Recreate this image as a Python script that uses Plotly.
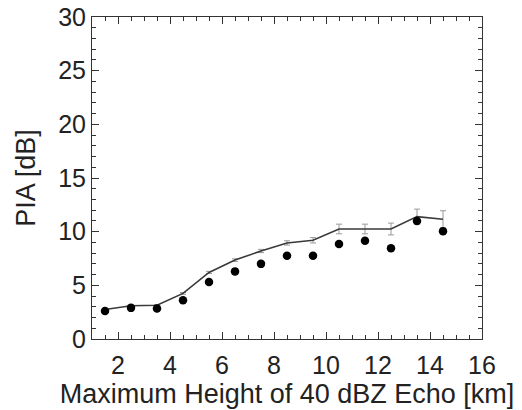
import plotly.graph_objects as go

heights = [1.5, 2.5, 3.5, 4.5, 5.5, 6.5, 7.5, 8.5, 9.5, 10.5, 11.5, 12.5, 13.5, 14.5]
pia_dots = [2.6, 2.9, 2.85, 3.6, 5.3, 6.3, 7.0, 7.75, 7.75, 8.85, 9.15, 8.45, 11.0, 10.05]
pia_line = [2.75, 3.1, 3.15, 4.25, 6.2, 7.35, 8.2, 8.95, 9.2, 10.25, 10.25, 10.25, 11.4, 11.15]
pia_err = [0.05, 0.05, 0.05, 0.08, 0.1, 0.12, 0.15, 0.2, 0.25, 0.45, 0.45, 0.55, 0.7, 0.8]

x_ticks = [2, 4, 6, 8, 10, 12, 14, 16]
y_ticks = [0, 5, 10, 15, 20, 25, 30]

fig = go.Figure()
fig.add_trace(go.Scatter(
    x=heights, y=pia_line, mode="lines",
    line=dict(color="#3a3a3a", width=1.6),
    error_y=dict(type="data", array=pia_err, visible=True, color="#999999", thickness=1, width=3),
    showlegend=False,
))
fig.add_trace(go.Scatter(
    x=heights, y=pia_dots, mode="markers",
    marker=dict(color="black", size=8.5),
    showlegend=False,
))

font = "Liberation Sans, Arial, sans-serif"
fig.update_layout(
    width=522, height=410,
    margin=dict(l=92, r=40, t=17, b=71, autoexpand=False),
    paper_bgcolor="white", plot_bgcolor="white",
    font=dict(family=font, color="#222222", size=25),
)
fig.update_xaxes(
    range=[1, 16], tickvals=x_ticks, ticks="inside", ticklen=7, tickcolor="#333",
    minor=dict(ticks="inside", ticklen=4, dtick=0.5, tickcolor="#333", showgrid=False),
    showline=True, linecolor="#333", linewidth=1, mirror="ticks", showgrid=False, zeroline=False,
    title=dict(text="Maximum Height of 40 dBZ Echo [km]", font=dict(size=27), standoff=2),
    tickfont=dict(size=25), ticklabelstandoff=4, automargin=False,
)
fig.update_yaxes(
    range=[0, 30], tickvals=y_ticks, ticks="inside", ticklen=7, tickcolor="#333",
    minor=dict(ticks="inside", ticklen=4, dtick=1, tickcolor="#333", showgrid=False),
    showline=True, linecolor="#333", linewidth=1, mirror="ticks", showgrid=False, zeroline=False,
    title=dict(text="PIA [dB]", font=dict(size=27), standoff=14),
    tickfont=dict(size=25), automargin=False,
)
fig.write_html("out.html")
